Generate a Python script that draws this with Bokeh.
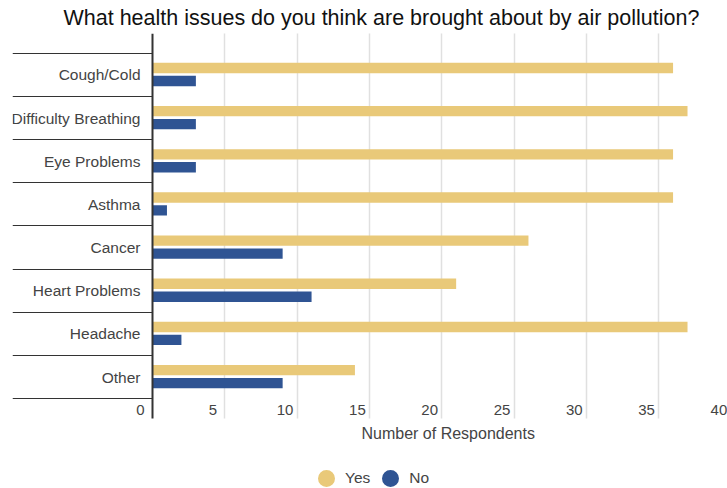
from bokeh.plotting import figure
from bokeh.models import (Range1d, LinearAxis, FixedTicker, Legend, LegendItem,
                          Label, ColumnDataSource)
from bokeh.transform import dodge
from bokeh.embed import file_html
from bokeh.resources import INLINE

# ---------------- data ----------------
categories = ["Cough/Cold", "Difficulty Breathing", "Eye Problems", "Asthma",
              "Cancer", "Heart Problems", "Headache", "Other"]
yes_counts = [36, 37, 36, 36, 26, 21, 37, 14]
no_counts = [3, 3, 3, 1, 9, 11, 2, 9]
x_ticks = [0, 5, 10, 15, 20, 25, 30, 35, 40]
series_names = ["Yes", "No"]
series_colors = ["#E9C979", "#2F5493"]

title_text = "What health issues do you think are brought about by air pollution?"
x_title = "Number of Respondents"

# ---------------- layout constants ----------------
FONT = "Liberation Sans"
TEXT_COLOR = "#444444"
n = len(categories)
centers = [i + 0.5 for i in range(n)]
boundaries = list(range(n + 1))

W, H = 727, 488
FRAME_L, FRAME_T = 12, 32
PXU = 14.46            # pixels per respondent
BAND_PX = 43.25        # pixels per category band
LEFT_PX = 140          # space left of the zero line inside frame
X0 = -LEFT_PX / PXU
X1 = (W - FRAME_L - LEFT_PX) / PXU
PAD = 0.46             # band padding above / below the categories
Y_TOP = -PAD
Y_BOT = Y_TOP + (H - FRAME_T) / BAND_PX
SHIFT = 12 / PXU       # tick labels sit left of their grid line

source = ColumnDataSource(dict(pos=centers, cat=categories, yes=yes_counts, no=no_counts))

p = figure(width=W, height=H,
           x_range=Range1d(X0, X1), y_range=Range1d(Y_BOT, Y_TOP),
           x_axis_location=None, y_axis_location=None,
           output_backend="svg", toolbar_location=None,
           min_border_left=FRAME_L, min_border_right=0, min_border_top=FRAME_T,
           min_border_bottom=0,
           outline_line_color=None, background_fill_color="white")
p.grid.visible = False

# title
p.title.text = title_text
p.title.text_font = FONT
p.title.text_font_size = "21.5px"
p.title.text_font_style = "normal"
p.title.text_color = "#111111"
p.title.align = "left"
p.title.offset = 51
p.title.standoff = 7

# vertical grid lines: long inward ticks of an axis placed under the bars
gridaxis = LinearAxis(fixed_location=n + PAD, ticker=FixedTicker(ticks=x_ticks[1:]),
                      level="underlay")
gridaxis.axis_line_color = None
gridaxis.major_tick_out = 0
gridaxis.major_tick_in = int(round((n + 2 * PAD) * BAND_PX))
gridaxis.major_tick_line_color = "#e0e0e0"
gridaxis.major_tick_line_width = 1.5
gridaxis.minor_tick_line_color = None
gridaxis.major_label_text_color = None
p.add_layout(gridaxis, "below")

# bars
p.hbar(y=dodge("pos", -0.16), left=0, right="yes", height=0.24, source=source,
       fill_color=series_colors[0], line_color=None)
p.hbar(y=dodge("pos", 0.14), left=0, right="no", height=0.24, source=source,
       fill_color=series_colors[1], line_color=None)

# category axis (at x = 0) with separators as long minor ticks
yaxis = LinearAxis(fixed_location=0, bounds=(-PAD, n + PAD),
                   ticker=FixedTicker(ticks=centers, minor_ticks=boundaries),
                   major_label_overrides={c: name for c, name in zip(centers, categories)})
yaxis.major_tick_out = 0
yaxis.major_tick_in = 0
yaxis.minor_tick_out = LEFT_PX
yaxis.minor_tick_in = 0
yaxis.minor_tick_line_color = "#333333"
yaxis.minor_tick_line_width = 1
yaxis.axis_line_color = "#333333"
yaxis.axis_line_width = 2
yaxis.major_label_standoff = 12 - LEFT_PX
yaxis.major_label_text_font = FONT
yaxis.major_label_text_font_size = "15.5px"
yaxis.major_label_text_color = TEXT_COLOR
p.add_layout(yaxis, "left")

# value tick labels
p.extra_x_ranges = {"labels": Range1d(X0 + SHIFT, X1 + SHIFT)}
xaxis = LinearAxis(x_range_name="labels", fixed_location=n,
                   ticker=FixedTicker(ticks=x_ticks))
xaxis.axis_line_color = None
xaxis.major_tick_line_color = None
xaxis.minor_tick_line_color = None
xaxis.major_tick_out = 0
xaxis.minor_tick_out = 0
xaxis.major_label_standoff = 6
xaxis.major_label_text_font = FONT
xaxis.major_label_text_font_size = "15px"
xaxis.major_label_text_color = TEXT_COLOR
p.add_layout(xaxis, "below")

# axis title
p.add_layout(Label(x=(x_ticks[0] + x_ticks[-1]) / 2 + 0.45, y=n + PAD + 15 / BAND_PX,
                   text=x_title, text_align="center", text_baseline="middle",
                   text_font=FONT, text_font_size="16px", text_color=TEXT_COLOR))

# legend (circle markers); the legend renderers are muted (invisible) in the plot
leg_renderers = []
for name, col, field in zip(series_names, series_colors, ["yes", "no"]):
    r = p.scatter(x=field, y="pos", source=source, marker="circle", size=8,
                  fill_color=col, line_color=col, line_width=9, muted_alpha=0)
    r.muted = True
    leg_renderers.append(r)
legend = Legend(items=[LegendItem(label=nm, renderers=[r]) for nm, r in zip(series_names, leg_renderers)],
                orientation="horizontal", location=(304, 0), click_policy="none",
                glyph_width=20, glyph_height=20, label_standoff=9, spacing=10,
                padding=0, margin=0, border_line_color=None, background_fill_alpha=0,
                label_text_font=FONT, label_text_font_size="15.5px", label_text_color=TEXT_COLOR)
p.add_layout(legend)

open("out.html", "w").write(file_html(p, INLINE))
